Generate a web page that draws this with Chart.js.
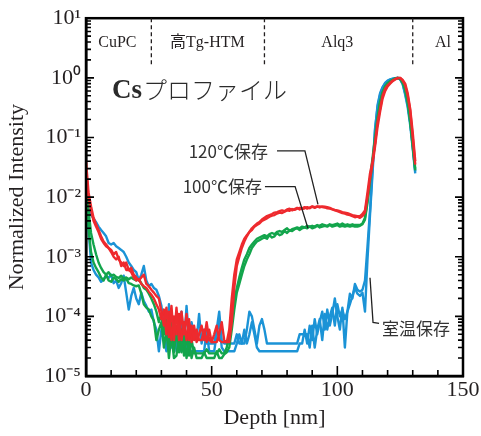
<!DOCTYPE html>
<html><head><meta charset="utf-8">
<script src="https://cdn.jsdelivr.net/npm/chart.js@4"></script>
<style>html,body{margin:0;padding:0;background:#fff}#wrap{width:481px;height:436px;position:relative}</style>
</head><body>
<div id="wrap"><canvas id="c"></canvas></div>
<script>
// ---- data ----
const depth = [0,1,2,3,4,5,6,7,8,9,10,11,12,13,14,15,16,17,18,19,20,21,22,23,24,25,26,27,28,29,30,31,32,33,34,35,36,37,38,39,40,41,42,43,44,45,46,47,48,49,50,51,52,53,54,55,56,57,58,59,60,61,62,63,64,65,66,67,68,69,70,71,72,73,74,75,76,77,78,79,80,81,82,83,84,85,86,87,88,89,90,91,92,93,94,95,96,97,98,99,100,101,102,103,104,105,106,107,108,109,110,111,112,113,114,115,116,117,118,119,120,121,122,123,124,125,126,127,128,129,130,131];

const red120a = [4e-2,1.2e-2,7e-3,4.5e-3,3.5e-3,2.8e-3,2.2e-3,1.8e-3,1.6e-3,1.4e-3,
1.3e-3,1.1e-3,1.2e-3,9e-4,8e-4,7e-4,8e-4,6e-4,6.5e-4,5e-4,
4.5e-4,4e-4,4.5e-4,5e-4,3.5e-4,3.2e-4,2.8e-4,2.5e-4,2.2e-4,2e-4,
1.2e-4,7e-5,1.4e-4,4.5e-5,1.5e-4,4e-5,1.4e-4,4e-5,1.2e-4,5e-5,
1.1e-4,4e-5,7e-5,4e-5,6e-5,4e-5,4e-5,6e-5,3.7e-5,6e-5,
3.7e-5,5e-5,7e-5,4e-5,3.7e-5,3.7e-5,3.7e-5,6e-5,2e-4,5e-4,
9e-4,1.2e-3,1.6e-3,2e-3,2.3e-3,2.6e-3,3e-3,3.3e-3,3.6e-3,3.8e-3,
4.2e-3,4.5e-3,4.8e-3,5e-3,5.2e-3,5.5e-3,5.6e-3,5.8e-3,6e-3,5.8e-3,
6.2e-3,6.4e-3,6e-3,6.3e-3,6.6e-3,6.2e-3,6.5e-3,6.8e-3,6.4e-3,6.7e-3,
7e-3,6.8e-3,7e-3,6.7e-3,7e-3,6.9e-3,6.8e-3,6.6e-3,6.3e-3,6.1e-3,
6e-3,5.8e-3,5.6e-3,5.5e-3,5.4e-3,5.2e-3,5e-3,4.9e-3,4.8e-3,4.8e-3,
5.2e-3,6e-3,1.2e-2,2.5e-2,4e-2,8e-2,0.18,0.3,0.5,0.65,
0.75,0.82,0.9,0.95,1.0,1.0,0.9,0.75,0.5,0.28,
0.1,0.035];

const red120b = [3e-2,1e-2,6e-3,4e-3,3.2e-3,2.6e-3,2e-3,1.7e-3,1.5e-3,1.4e-3,
1.2e-3,1e-3,9e-4,1e-3,7e-4,8e-4,6e-4,6e-4,5.5e-4,4.5e-4,
4e-4,4.2e-4,3.5e-4,3.2e-4,3e-4,2.6e-4,2.3e-4,2e-4,1.6e-4,1.3e-4,
9e-5,1.3e-4,5e-5,1.2e-4,4e-5,1e-4,5e-5,1.1e-4,4e-5,8e-5,
4e-5,9e-5,3.7e-5,7e-5,3.7e-5,5e-5,7e-5,4e-5,8e-5,4e-5,
3.7e-5,3.7e-5,3.7e-5,5e-5,8e-5,4e-5,3.7e-5,3.7e-5,8e-5,3e-4,
7e-4,1e-3,1.4e-3,1.8e-3,2.2e-3,2.6e-3,2.8e-3,3.2e-3,3.4e-3,3.6e-3,
4e-3,4.2e-3,4.4e-3,4.7e-3,4.9e-3,5e-3,5.3e-3,5.5e-3,5.4e-3,5.7e-3,
6e-3,5.9e-3,6.3e-3,6.1e-3,6.4e-3,6.6e-3,6.3e-3,6.5e-3,6.8e-3,6.5e-3,
6.9e-3,6.6e-3,6.9e-3,7e-3,6.8e-3,6.7e-3,6.5e-3,6.4e-3,6.2e-3,6e-3,
5.8e-3,5.6e-3,5.4e-3,5.3e-3,5.1e-3,5e-3,4.8e-3,4.6e-3,4.7e-3,4.5e-3,
4.8e-3,5.5e-3,1e-2,2e-2,3.5e-2,7e-2,0.15,0.27,0.45,0.6,
0.72,0.8,0.88,0.94,0.98,1.0,0.92,0.8,0.55,0.3,
0.12,0.04];

const green100a = [3e-2,3e-3,1.2e-3,8e-4,6.5e-4,5.5e-4,4.5e-4,4e-4,5e-4,4e-4,
3.8e-4,4.5e-4,4.2e-4,3.8e-4,4.2e-4,4e-4,4.3e-4,3.6e-4,3.5e-4,3.3e-4,
3.2e-4,3.3e-4,2.4e-4,1.6e-4,1.4e-4,1.3e-4,1e-4,8.5e-5,4e-5,6e-5,
8e-5,3e-5,6e-5,2e-5,5e-5,2e-5,2.2e-5,5e-5,2.5e-5,5e-5,
2e-5,4e-5,2e-5,3e-5,2e-5,2e-5,2e-5,2.5e-5,2e-5,2e-5,
2e-5,2e-5,2.6e-5,2e-5,2e-5,2.3e-5,2.5e-5,3e-5,6e-5,1.3e-4,
2.5e-4,3.5e-4,5e-4,7e-4,9e-4,1.1e-3,1.4e-3,1.6e-3,1.8e-3,1.9e-3,
2e-3,2.1e-3,2e-3,2.3e-3,2.1e-3,2.2e-3,2.5e-3,2.3e-3,2.4e-3,2.7e-3,
2.5e-3,2.8e-3,2.7e-3,2.9e-3,3e-3,2.8e-3,3e-3,3.1e-3,3e-3,3.2e-3,
3e-3,3.1e-3,3.3e-3,3.1e-3,3.2e-3,3.3e-3,3.2e-3,3.4e-3,3.2e-3,3.3e-3,
3.4e-3,3.2e-3,3.3e-3,3.2e-3,3.3e-3,3.2e-3,3.3e-3,3.2e-3,3.2e-3,3.3e-3,
3.5e-3,4.2e-3,8e-3,1.8e-2,4e-2,8e-2,0.2,0.38,0.55,0.7,
0.8,0.87,0.92,0.97,1.0,0.97,0.85,0.65,0.4,0.2,
0.08,0.03];

const green100b = [3.5e-2,6e-3,2.5e-3,1.6e-3,1.1e-3,8e-4,6.5e-4,5.5e-4,5e-4,5.5e-4,
4.8e-4,5e-4,4.6e-4,4.4e-4,4.8e-4,4.3e-4,4.5e-4,4.2e-4,4.5e-4,4.2e-4,
4e-4,4.2e-4,3.6e-4,3e-4,2.8e-4,2.4e-4,2e-4,1.6e-4,1.2e-4,8e-5,
1.1e-4,5e-5,9e-5,3e-5,8e-5,2.5e-5,6e-5,2.5e-5,6e-5,2.2e-5,
5e-5,2.2e-5,4e-5,2.4e-5,2.4e-5,2.4e-5,2.4e-5,2.4e-5,2.8e-5,2.4e-5,
2.4e-5,2.4e-5,2.4e-5,2.8e-5,2.4e-5,2.4e-5,3e-5,5e-5,1e-4,1.8e-4,
3e-4,4.5e-4,6.5e-4,9e-4,1.1e-3,1.4e-3,1.6e-3,1.8e-3,2e-3,2.1e-3,
2.2e-3,2.3e-3,2.2e-3,2.4e-3,2.5e-3,2.4e-3,2.6e-3,2.7e-3,2.6e-3,2.8e-3,
3e-3,2.7e-3,2.9e-3,3e-3,3.1e-3,3e-3,3.2e-3,3.1e-3,3.3e-3,3.2e-3,
3.3e-3,3.2e-3,3.4e-3,3.3e-3,3.5e-3,3.4e-3,3.3e-3,3.5e-3,3.4e-3,3.5e-3,
3.6e-3,3.4e-3,3.6e-3,3.4e-3,3.5e-3,3.4e-3,3.5e-3,3.4e-3,3.4e-3,3.4e-3,
3.6e-3,4.5e-3,9e-3,2e-2,4.5e-2,0.1,0.22,0.4,0.58,0.72,
0.82,0.88,0.93,0.98,1.0,0.96,0.82,0.62,0.38,0.18,
0.07,0.028];

const blueRTa = [2e-2,6e-3,5e-3,4.4e-3,3.8e-3,3.2e-3,2.8e-3,2.5e-3,2.2e-3,1.7e-3,
1.6e-3,1.7e-3,1.5e-3,1.4e-3,1.3e-3,1.2e-3,1e-3,8e-4,7e-4,6e-4,
5.5e-4,4e-4,5e-4,7e-4,4e-4,3.2e-4,3.5e-4,3e-4,2.8e-4,2.2e-4,
1.5e-4,7e-5,5e-5,6e-5,9e-5,5e-5,3e-5,2.6e-5,1.2e-4,3e-5,
1.5e-4,4e-5,8e-5,5e-5,4e-5,1.1e-4,3.5e-5,6e-5,3.5e-5,3.5e-5,
3.5e-5,3.5e-5,6e-5,1.2e-4,4e-5,3.5e-5,3.5e-5,3.5e-5,3.5e-5,3.5e-5,
5e-5,3.5e-5,3.5e-5,3.5e-5,6e-5,1.2e-4,1e-4,6e-5,3.5e-5,7e-5,
9e-5,6e-5,3.5e-5,3.5e-5,3.5e-5,3.5e-5,3.5e-5,3.5e-5,3.5e-5,3.5e-5,
3.5e-5,3.5e-5,3.5e-5,3.5e-5,3.5e-5,5e-5,5e-5,5e-5,5e-5,3e-5,
7e-5,3e-5,6e-5,9e-5,4e-5,1.1e-4,6e-5,1e-4,1.4e-4,7e-5,
1.6e-4,1e-4,1.3e-4,9e-5,1.2e-4,1.6e-4,2.2e-4,3e-4,2.4e-4,2.2e-4,
2.5e-4,1.2e-4,9e-4,5e-3,2.5e-2,0.13,0.35,0.55,0.7,0.82,
0.9,0.94,0.97,0.99,1.0,0.95,0.8,0.55,0.35,0.18,
0.07,0.027];

const blueRTb = [1.5e-2,3e-3,8e-4,6e-4,5e-4,4.5e-4,3.8e-4,4.2e-4,4.8e-4,4.4e-4,
5e-4,3.6e-4,4e-4,3e-4,3.6e-4,4.8e-4,2.5e-4,1.3e-4,2.2e-4,3e-4,
2e-4,1.6e-4,2.5e-4,1.8e-4,1.5e-4,1.2e-4,1.3e-4,8e-5,6e-5,2.6e-5,
6e-5,4e-5,2.6e-5,1.6e-4,3e-5,7e-5,2.6e-5,5e-5,2.6e-5,8e-5,
2.6e-5,2.6e-5,2.6e-5,2.6e-5,2.6e-5,2.6e-5,2.6e-5,2.6e-5,6e-5,2.6e-5,
2.6e-5,2.6e-5,5e-5,9e-5,3e-5,2.6e-5,2.6e-5,2.6e-5,2.6e-5,2.6e-5,
3.5e-5,5e-5,3.5e-5,6e-5,3.5e-5,5e-5,8e-5,5e-5,3e-5,2.6e-5,
2.6e-5,2.6e-5,2.6e-5,2.6e-5,2.6e-5,2.6e-5,2.6e-5,2.6e-5,2.6e-5,2.6e-5,
2.6e-5,2.6e-5,2.6e-5,2.6e-5,2.6e-5,3.5e-5,3.5e-5,6e-5,3.5e-5,7e-5,
4e-5,9e-5,5e-5,8e-5,1.2e-4,6e-5,1.3e-4,7e-5,1.1e-4,2e-4,
1e-4,6e-5,1.4e-4,3e-5,1.2e-4,2.4e-4,2e-4,3.5e-4,2.8e-4,2.6e-4,
2.8e-4,4e-4,1.5e-3,6e-3,3e-2,0.14,0.32,0.52,0.68,0.8,
0.88,0.93,0.96,0.99,1.0,0.94,0.78,0.52,0.32,0.16,
0.065,0.025];

const yTickValues = [1e-5,1e-4,1e-3,1e-2,1e-1,1,10];
const yTickLabels = ['10⁻⁵','10⁻⁴','10⁻³','10⁻²','10⁻¹','10⁰','10¹'];
const layerBounds = [26, 71, 130];
const layerNames = ['CuPC','高Tg-HTM','Alq3','Al'];

// ---- chart ----
const RED = '#ee2a2e', GREEN = '#13a54c', BLUE = '#1b93d6';
const TXT = '#231f20';
const SERIF = '"Liberation Serif","Times New Roman",serif';
const JP = '"Noto Sans CJK JP","Noto Sans",sans-serif';

function ds(values, color){
  return {data: depth.map((x,i)=>({x:x, y:values[i]})), borderColor: color,
    borderWidth: 2.4, pointRadius: 0, tension: 0, fill:false, borderJoinStyle:'round'};
}

const decor = {
  id: 'decor',
  afterDatasetsDraw(chart){
    const ctx = chart.ctx, xs = chart.scales.x, ys = chart.scales.y, a = chart.chartArea;
    ctx.save();
    // frame
    ctx.strokeStyle = '#000'; ctx.lineWidth = 2.5;
    ctx.strokeRect(a.left, a.top, a.right - a.left, a.bottom - a.top);
    // y ticks inward, both sides
    ctx.lineWidth = 1.6;
    for (let n = -5; n <= 1; n++) {
      for (let k = 1; k <= 9; k++) {
        const v = k * Math.pow(10, n);
        if (v > 10.0001) break;
        const py = ys.getPixelForValue(v);
        const len = k === 1 ? 8 : 5;
        ctx.beginPath();
        ctx.moveTo(a.left, py); ctx.lineTo(a.left + len, py);
        ctx.moveTo(a.right, py); ctx.lineTo(a.right - len, py);
        ctx.stroke();
      }
    }
    // x ticks inward
    for (let v = 0; v <= 150; v += 10) {
      const px = xs.getPixelForValue(v);
      const len = v % 50 === 0 ? 10 : 6;
      ctx.beginPath(); ctx.moveTo(px, a.bottom); ctx.lineTo(px, a.bottom - len); ctx.stroke();
    }
    // layer boundaries (dashed)
    ctx.strokeStyle = TXT; ctx.lineWidth = 1.3; ctx.setLineDash([4,3]);
    layerBounds.forEach(b => {
      const px = xs.getPixelForValue(b);
      ctx.beginPath(); ctx.moveTo(px, a.top); ctx.lineTo(px, a.top + 47); ctx.stroke();
    });
    ctx.setLineDash([]);
    // layer names
    ctx.fillStyle = TXT; ctx.textAlign = 'center'; ctx.textBaseline = 'middle';
    const nameX = [12.5, 48.3, 100, 142];
    layerNames.forEach((t, i) => {
      ctx.font = (i === 1 ? '15px ' + JP.replace(',', ',"Liberation Serif",') : '16px ' + SERIF);
      if (i === 1) ctx.font = '16px "Liberation Serif","Noto Sans CJK JP",serif';
      ctx.fillText(t, xs.getPixelForValue(nameX[i]), 43);
    });
    // title "Csプロファイル"
    ctx.textAlign = 'left'; ctx.textBaseline = 'alphabetic';
    const cx = xs.getPixelForValue(10.3), cy = ys.getPixelForValue(Math.pow(10, -0.33));
    ctx.font = 'bold 27px ' + SERIF;
    ctx.fillStyle = '#2b2b2b';
    ctx.fillText('Cs', cx, cy);
    const w = ctx.measureText('Cs').width;
    ctx.font = '300 24px ' + JP;
    ctx.fillText('プロファイル', cx + w + 1, cy + 1);
    // annotations
    ctx.font = '17px ' + JP; ctx.fillStyle = '#333';
    ctx.strokeStyle = '#222'; ctx.lineWidth = 1.3;
    const P = (x, lg) => [xs.getPixelForValue(x), ys.getPixelForValue(Math.pow(10, lg))];
    function leader(pts){
      ctx.beginPath();
      pts.forEach((p,i) => { const q = P(p[0], p[1]); i ? ctx.lineTo(q[0], q[1]) : ctx.moveTo(q[0], q[1]); });
      ctx.stroke();
    }
    ctx.textBaseline = 'middle';
    ctx.textAlign = 'right';
    let q = P(72.4, -1.243); ctx.fillText('120℃保存', q[0], q[1]);
    leader([[76, -1.226], [87.1, -1.226], [92.3, -2.123]]);
    q = P(70.0, -1.824); ctx.fillText('100℃保存', q[0], q[1]);
    leader([[71.2, -1.824], [83.2, -1.824], [88.3, -2.522]]);
    ctx.textAlign = 'left';
    q = P(117.8, -4.2); ctx.fillText('室温保存', q[0], q[1]);
    leader([[113.0, -3.352], [114.2, -4.1], [116.6, -4.116]]);
    ctx.restore();
  }
};

new Chart(document.getElementById('c'), {
  type: 'line',
  data: { datasets: [ds(red120a, RED), ds(red120b, RED), ds(green100a, GREEN), ds(green100b, GREEN), ds(blueRTa, BLUE), ds(blueRTb, BLUE)] },
  options: {
    responsive: true, maintainAspectRatio: false, animation: false,
    layout: { padding: { left: 0, top: 15, right: 18, bottom: 0 } },
    plugins: { legend: { display: false }, tooltip: { enabled: false } },
    scales: {
      x: {
        type: 'linear', min: 0, max: 150,
        afterFit(s){ s.height = 60; },
        afterBuildTicks(s){ s.ticks = [0,50,100,150].map(v => ({value: v})); },
        grid: { display: false, drawTicks: false },
        border: { display: true, color: '#000', width: 2.5 },
        ticks: { color: TXT, font: { family: SERIF, size: 22 }, padding: 1, maxRotation: 0 },
        title: { display: true, text: 'Depth [nm]', color: TXT, font: { family: SERIF, size: 22 }, padding: { top: 0, bottom: 5 } }
      },
      y: {
        type: 'logarithmic', min: 1e-5, max: 10,
        afterFit(s){ s.width = 86; },
        afterBuildTicks(s){ s.ticks = yTickValues.map(v => ({value: v})); },
        grid: { display: false, drawTicks: false },
        border: { display: true, color: '#000', width: 2.5 },
        ticks: { color: TXT, font: { family: SERIF, size: 22 }, padding: 5,
          callback: (v) => { const i = yTickValues.findIndex(t => Math.abs(Math.log10(t) - Math.log10(v)) < 1e-6); return i >= 0 ? yTickLabels[i] : ''; } },
        title: { display: true, text: 'Normalized Intensity', color: TXT, font: { family: SERIF, size: 22 }, padding: { top: 4, bottom: 0 } }
      }
    }
  },
  plugins: [decor]
});
</script>
</body></html>
